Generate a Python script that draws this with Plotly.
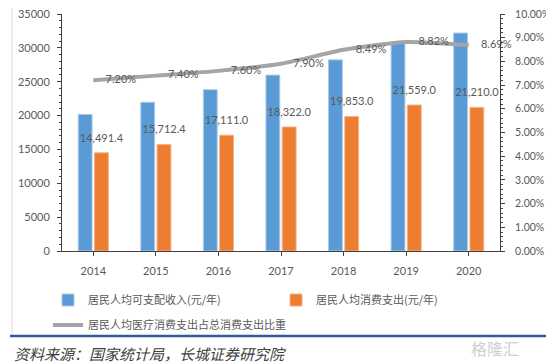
import plotly.graph_objects as go

years = ["2014", "2015", "2016", "2017", "2018", "2019", "2020"]
income = [20167, 21966, 23821, 25974, 28228, 30733, 32189]
consumption = [14491.4, 15712.4, 17111.0, 18322.0, 19853.0, 21559.0, 21210.0]
medical_share = [7.20, 7.40, 7.60, 7.90, 8.49, 8.82, 8.69]

name_income = "居民人均可支配收入(元/年)"
name_cons = "居民人均消费支出(元/年)"
name_share = "居民人均医疗消费支出占总消费支出比重"
source_text = "资料来源：国家统计局，长城证券研究院"
watermark = "格隆汇"

label_color = "#595959"
num_font = "Lato, 'Liberation Sans', sans-serif"
cjk_font = "'Noto Sans CJK SC', sans-serif"

# page body has an 8px margin: the figure is drawn 8px smaller and offset
OFF = 8
W, H = 554 - OFF, 364 - OFF
ml, mt = 62 - OFF, 14 - OFF
plot_r, plot_b = 500 - OFF, 251 - OFF
mr, mb = W - plot_r, H - plot_b
pw, ph = plot_r - ml, plot_b - mt


def px_x(px):  # reference pixel -> paper x
    return (px - OFF - ml) / pw


def px_y(py):  # reference pixel -> paper y
    return (plot_b - (py - OFF)) / ph


n = len(years)
label_shift = 0.13  # orange bar centre offset inside a category (category units)

fig = go.Figure()
fig.add_trace(go.Bar(
    x=years, y=income, name=name_income,
    marker=dict(color="#5B9BD5", line=dict(color="#A9CBEA", width=1)),
    legend="legend",
))
fig.add_trace(go.Bar(
    x=years, y=consumption, name=name_cons,
    marker=dict(color="#ED7D31", line=dict(color="#F4B183", width=1)),
    legend="legend3",
))
fig.add_trace(go.Scatter(
    x=years, y=medical_share, name=name_share, yaxis="y2",
    mode="lines+markers+text",
    marker=dict(size=18, color="rgba(0,0,0,0)"),
    line=dict(color="#A5A5A5", width=4, shape="spline", smoothing=0.6),
    text=[f"{v:.2f}%" for v in medical_share],
    textposition="middle right", cliponaxis=False,
    textfont=dict(color=label_color, size=11, family=num_font),
    legend="legend2",
))
# value labels of the orange bars (on an overlay category axis shifted to the bar centres)
fig.add_trace(go.Scatter(
    x=years, y=consumption, xaxis="x2", yaxis="y",
    mode="markers+text", showlegend=False, hoverinfo="skip",
    marker=dict(size=12, color="rgba(0,0,0,0)"),
    text=[f"{v:,.1f}" for v in consumption],
    textposition="top center", cliponaxis=False,
    textfont=dict(color=label_color, size=11, family=num_font),
))

axis_common = dict(showgrid=False, zeroline=False, showline=True, linecolor="#404040",
                   linewidth=1, ticks="outside", ticklen=4, tickcolor="#404040")
legend_common = dict(orientation="h", xanchor="left", yanchor="middle",
                     font=dict(family=cjk_font, size=11, color=label_color),
                     bgcolor="rgba(0,0,0,0)", itemwidth=30)

fig.update_layout(
    width=W, height=H,
    margin=dict(l=ml, r=mr, t=mt, b=mb, pad=0, autoexpand=False),
    paper_bgcolor="white", plot_bgcolor="white",
    barmode="group", bargap=0.48, bargroupgap=0.15,
    font=dict(family=num_font, color=label_color, size=11),
    xaxis=dict(type="category", range=[-0.5, n - 0.5], ticklabelstandoff=6,
               tickfont=dict(size=11, color=label_color), **axis_common),
    xaxis2=dict(type="category", overlaying="x", visible=False,
                range=[-0.5 - label_shift, n - 0.5 - label_shift]),
    yaxis=dict(range=[0, 35000], dtick=5000, tickformat="d", ticklabelstandoff=5,
               ticklabeloverflow="allow", tickfont=dict(size=11, color=label_color),
               minor=dict(dtick=1000, ticks="outside", ticklen=2, tickcolor="#404040"),
               **axis_common),
    yaxis2=dict(range=[0, 10], dtick=1, overlaying="y", side="right",
                ticksuffix="%", tickformat=".2f", ticklabelstandoff=8,
                ticklabeloverflow="allow", tickfont=dict(size=10.5, color=label_color),
                minor=dict(dtick=0.2, ticks="outside", ticklen=2, tickcolor="#404040"),
                **axis_common),
    legend=dict(x=px_x(48), y=px_y(300), **legend_common),
    legend3=dict(x=px_x(276), y=px_y(300), **legend_common),
    legend2=dict(x=px_x(48), y=px_y(325), **legend_common),
    shapes=[
        dict(type="line", xref="paper", yref="paper", x0=px_x(12), x1=px_x(12),
             y0=px_y(0), y1=px_y(335), line=dict(color="#D9D9D9", width=1)),
        dict(type="line", xref="paper", yref="paper", x0=px_x(10), x1=px_x(554),
             y0=px_y(336), y1=px_y(336), line=dict(color="#2E5D9E", width=2.5)),
    ],
    annotations=[
        dict(text=f"<i>{source_text}</i>", xref="paper", yref="paper",
             x=px_x(12), y=px_y(353), xanchor="left", yanchor="middle", showarrow=False,
             font=dict(family=cjk_font, size=15, color="#404040")),
        dict(text=watermark, xref="paper", yref="paper",
             x=px_x(521), y=px_y(348), xanchor="right", yanchor="middle", showarrow=False,
             font=dict(family=cjk_font, size=16, color="#CFCFCF")),
    ],
)

fig.write_html("out.html")
